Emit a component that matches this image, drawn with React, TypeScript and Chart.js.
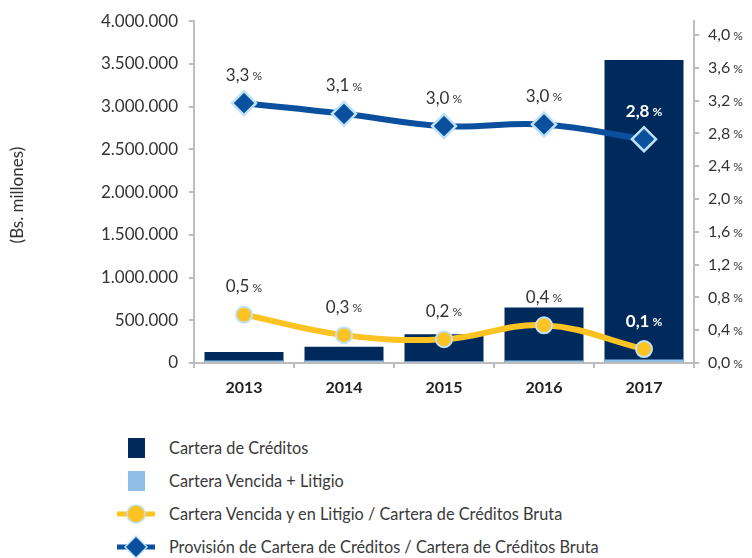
import React, { useEffect, useRef } from "react";
import { Chart, registerables } from "chart.js";

Chart.register(...registerables);

const years = ["2013", "2014", "2015", "2016", "2017"];
const carteraCreditos = [128000, 190000, 335000, 650000, 3545000];
const carteraVencida = [30000, 30000, 20000, 30000, 40000];
const ratioVencida = [0.59, 0.34, 0.29, 0.46, 0.17];
const ratioVencidaLabels = ["0,5", "0,3", "0,2", "0,4", "0,1"];
const ratioProvision = [3.17, 3.04, 2.89, 2.91, 2.73];
const ratioProvisionLabels = ["3,3", "3,1", "3,0", "3,0", "2,8"];
const leftTicks = [0, 500000, 1000000, 1500000, 2000000, 2500000, 3000000, 3500000, 4000000];
const rightTicks = [0, 0.4, 0.8, 1.2, 1.6, 2.0, 2.4, 2.8, 3.2, 3.6, 4.0];
const seriesNames = [
  "Cartera de Créditos",
  "Cartera Vencida + Litigio",
  "Cartera Vencida y en Litigio / Cartera de Créditos Bruta",
  "Provisión de Cartera de Créditos / Cartera de Créditos Bruta",
];
const yTitle = "(Bs. millones)";

const FONT = "Lato, 'Open Sans', sans-serif";
const C_DARK = "#002a5c";
const C_LIGHT = "#8fbee6";
const C_YELLOW = "#fcc323";
const C_BLUE = "#0a509e";
const C_HALO = "#bfe2f7";
const C_AXIS = "#bdbdbd";
const C_TEXT = "#333333";

function fmtThousands(v: number): string {
  const s = Math.round(v).toString();
  return s.replace(/\B(?=(\d{3})+(?!\d))/g, ".");
}

function fmtPct(v: number): string {
  return v.toFixed(1).replace(".", ",");
}

function drawPct(ctx: any, main: string, x: number, y: number, weight: string, color: string, big: number, small: number, align: string) {
  ctx.save();
  ctx.fillStyle = color;
  ctx.textBaseline = "middle";
  ctx.textAlign = "left";
  ctx.font = `${weight} ${big}px ${FONT}`;
  const w1 = ctx.measureText(main).width;
  ctx.font = `${weight} ${small}px ${FONT}`;
  const w2 = ctx.measureText(" %").width;
  const start = align === "center" ? x - (w1 + w2) / 2 : x;
  ctx.font = `${weight} ${big}px ${FONT}`;
  ctx.fillText(main, start, y);
  ctx.font = `${weight} ${small}px ${FONT}`;
  ctx.fillText(" %", start + w1, y + 1);
  ctx.restore();
}

const textPlugin = {
  id: "customTexts",
  afterDraw(chart: any) {
    const ctx = chart.ctx;
    const y1 = chart.scales.y1;
    y1.ticks.forEach((t: any) => {
      const py = y1.getPixelForValue(t.value);
      drawPct(ctx, fmtPct(t.value), y1.left + 14, py, "normal", C_TEXT, 16, 12, "left");
    });
    const ca = chart.chartArea;
    ctx.save();
    ctx.translate(18, (ca.top + ca.bottom) / 2 + 3);
    ctx.rotate(-Math.PI / 2);
    ctx.fillStyle = C_TEXT;
    ctx.font = `normal 17px ${FONT}`;
    ctx.textAlign = "center";
    ctx.textBaseline = "middle";
    ctx.fillText(yTitle, 0, 0);
    ctx.restore();
  },
  afterDatasetsDraw(chart: any) {
    const ctx = chart.ctx;
    const barMeta = chart.getDatasetMeta(0);
    chart.data.datasets.forEach((ds: any, di: number) => {
      if (!ds.valueLabels) return;
      const meta = chart.getDatasetMeta(di);
      meta.data.forEach((pt: any, i: number) => {
        const x = pt.x;
        const y = pt.y - 28;
        const bar = barMeta.data[i];
        const inside =
          bar &&
          x >= bar.x - bar.width / 2 &&
          x <= bar.x + bar.width / 2 &&
          y >= bar.y;
        drawPct(
          ctx,
          ds.valueLabels[i],
          x,
          y,
          inside ? "bold" : "normal",
          inside ? "#ffffff" : C_TEXT,
          17,
          12,
          "center"
        );
      });
    });
  },
};

function LegendMarker({ kind }: { kind: number }) {
  if (kind === 0 || kind === 1) {
    return (
      <svg width="40" height="24" style={{ display: "block" }}>
        <rect x="11" y="2" width="17" height="20" fill={kind === 0 ? C_DARK : C_LIGHT} />
      </svg>
    );
  }
  if (kind === 2) {
    return (
      <svg width="40" height="24" style={{ display: "block" }}>
        <line x1="0" y1="12" x2="38" y2="12" stroke={C_YELLOW} strokeWidth="5" />
        <circle cx="19" cy="12" r="9" fill={C_YELLOW} stroke={C_HALO} strokeWidth="1.5" />
      </svg>
    );
  }
  return (
    <svg width="40" height="24" style={{ display: "block" }}>
      <line x1="0" y1="12" x2="38" y2="12" stroke={C_BLUE} strokeWidth="5" />
      <polygon points="19,1 30,12 19,23 8,12" fill={C_BLUE} stroke={C_HALO} strokeWidth="1.5" />
    </svg>
  );
}

export default function App() {
  const ref = useRef<HTMLCanvasElement | null>(null);

  useEffect(() => {
    document.body.style.margin = "0";
    if (!ref.current) return;
    const chart = new Chart(ref.current, {
      type: "bar",
      data: {
        labels: years,
        datasets: [
          {
            type: "bar",
            label: seriesNames[0],
            data: carteraCreditos,
            backgroundColor: C_DARK,
            yAxisID: "y",
            order: 3,
            grouped: false,
            barPercentage: 0.79,
            categoryPercentage: 1,
          } as any,
          {
            type: "bar",
            label: seriesNames[1],
            data: carteraVencida,
            backgroundColor: C_LIGHT,
            yAxisID: "y",
            order: 2,
            grouped: false,
            barPercentage: 0.79,
            categoryPercentage: 1,
          } as any,
          {
            type: "line",
            label: seriesNames[2],
            data: ratioVencida,
            valueLabels: ratioVencidaLabels,
            yAxisID: "y1",
            borderColor: C_YELLOW,
            borderWidth: 6,
            tension: 0.4,
            pointStyle: "circle",
            pointRadius: 8,
            pointBorderWidth: 2,
            pointBackgroundColor: C_YELLOW,
            pointBorderColor: C_HALO,
            order: 1,
          } as any,
          {
            type: "line",
            label: seriesNames[3],
            data: ratioProvision,
            valueLabels: ratioProvisionLabels,
            yAxisID: "y1",
            borderColor: C_BLUE,
            borderWidth: 6,
            tension: 0.4,
            pointStyle: "rectRot",
            pointRadius: 12,
            pointBorderWidth: 2.5,
            pointBackgroundColor: C_BLUE,
            pointBorderColor: C_HALO,
            order: 0,
          } as any,
        ],
      },
      options: {
        responsive: false,
        animation: false,
        layout: { padding: { top: 20, bottom: 0, left: 0, right: 0 } },
        plugins: {
          legend: { display: false },
          tooltip: { enabled: false },
        },
        scales: {
          x: {
            type: "category",
            offset: true,
            grid: {
              offset: true,
              drawOnChartArea: false,
              drawTicks: true,
              tickLength: 5,
              color: C_AXIS,
              lineWidth: 2,
            },
            border: { display: true, color: C_AXIS, width: 2 },
            ticks: {
              color: "#222222",
              padding: 10,
              font: { family: FONT, size: 16, weight: "bold" },
            },
            afterFit: (s: any) => {
              s.height = 47;
            },
          },
          y: {
            type: "linear",
            position: "left",
            min: 0,
            max: 4000000,
            afterBuildTicks: (s: any) => {
              s.ticks = leftTicks.map((v) => ({ value: v }));
            },
            grid: {
              drawOnChartArea: false,
              drawTicks: true,
              tickLength: 5,
              color: C_AXIS,
              lineWidth: 2,
            },
            border: { display: true, color: C_AXIS, width: 2 },
            ticks: {
              color: C_TEXT,
              padding: 11,
              font: { family: FONT, size: 17 },
              callback: (v: any) => fmtThousands(Number(v)),
            },
            afterFit: (s: any) => {
              s.width = 194;
            },
          },
          y1: {
            type: "linear",
            position: "right",
            min: 0,
            max: 4.17,
            afterBuildTicks: (s: any) => {
              s.ticks = rightTicks.map((v) => ({ value: v }));
            },
            grid: {
              drawOnChartArea: false,
              drawTicks: true,
              tickLength: 5,
              color: C_AXIS,
              lineWidth: 2,
            },
            border: { display: true, color: C_AXIS, width: 2 },
            ticks: { display: false },
            afterFit: (s: any) => {
              s.width = 58;
            },
          },
        },
      } as any,
      plugins: [textPlugin],
    });
    return () => chart.destroy();
  }, []);

  return (
    <div
      style={{
        position: "absolute",
        left: 0,
        top: 0,
        width: 752,
        height: 558,
        background: "#ffffff",
        fontFamily: FONT,
      }}
    >
      <canvas ref={ref} width={752} height={410} style={{ display: "block" }} />
      <div style={{ position: "absolute", left: 117, top: 431 }}>
        {seriesNames.map((name, i) => (
          <div key={name} style={{ display: "flex", alignItems: "center", height: 33 }}>
            <LegendMarker kind={i} />
            <span style={{ marginLeft: 12, fontSize: 16.3, color: "#3a3a3a", whiteSpace: "nowrap" }}>
              {name}
            </span>
          </div>
        ))}
      </div>
    </div>
  );
}
